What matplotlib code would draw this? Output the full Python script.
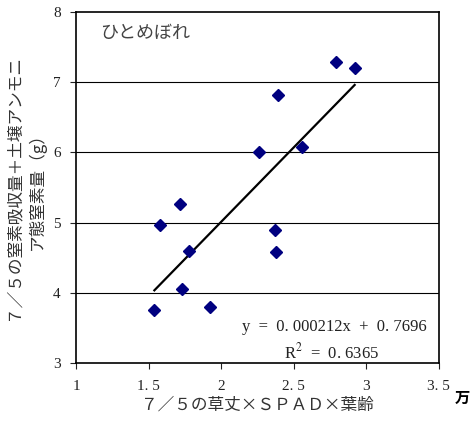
import numpy as np
import matplotlib.pyplot as plt

plt.rcParams['font.family'] = ['Liberation Serif', 'Noto Sans CJK JP', 'DejaVu Sans']
plt.rcParams['mathtext.fontset'] = 'stix'

# data (x in units of 万)
x_vals = [1.54, 1.58, 1.72, 1.78, 1.73, 1.92, 2.26, 2.37, 2.38, 2.39, 2.56, 2.79, 2.92]
y_vals = [3.75, 4.97, 5.27, 4.60, 4.05, 3.80, 6.00, 4.90, 4.58, 6.82, 6.07, 7.28, 7.20]

# regression given on the chart: y = 0.000212x + 0.7696 (x in raw units)
slope = 0.000212 * 10000
intercept = 0.7696

xticks = [1, 1.5, 2, 2.5, 3, 3.5]
xtick_labels = ['1', '1. 5', '2', '2. 5', '3', '3. 5']
yticks = [3, 4, 5, 6, 7, 8]

fig = plt.figure(figsize=(4.7, 4.26), dpi=100)
ax = fig.add_axes([0.1617, 0.148, 0.772, 0.824])

# horizontal grid lines
for g in [4, 5, 6, 7]:
    ax.axhline(g, color='black', lw=0.8, zorder=1)

# scatter points
ax.plot(x_vals, y_vals, linestyle='none', marker='D', markersize=6,
        color='#000080', zorder=3)

# trend line over the data range
xl = np.array([min(x_vals), max(x_vals)])
ax.plot(xl, slope * xl + intercept, color='black', lw=1.6, zorder=2)

ax.set_xlim(1, 3.5)
ax.set_ylim(3, 8)
ax.set_xticks(xticks)
ax.set_xticklabels(xtick_labels)
ax.set_yticks(yticks)
ax.tick_params(axis='both', direction='out', length=4, width=0.8,
               labelsize=11, colors='#222222')
ax.tick_params(axis='x', pad=8)
ax.tick_params(axis='y', pad=7)

for s in ax.spines.values():
    s.set_linewidth(1.2)
    s.set_color('black')

# labels
jp = ['Noto Sans CJK JP', 'DejaVu Sans']
ax.set_xlabel('７／５の草丈×ＳＰＡＤ×葉齢', family=jp, fontsize=12,
              color='#333333', labelpad=3)
ax.set_ylabel('７／５の窒素吸収量＋土壌アンモニ\nア態窒素量（g）', family=jp,
              fontsize=12, color='#333333', labelpad=5, linespacing=1.45)

ax.text(0.066, 0.94, 'ひとめぼれ', transform=ax.transAxes, family=jp,
        fontsize=13, color='#444444', va='center')

ax.text(0.967, 0.103, 'y  =  0. 000212x  +  0. 7696', transform=ax.transAxes,
        ha='right', va='center', fontsize=12, color='#222222')
ax.text(0.705, 0.031, 'R$^{2}$  =  0. 6365', transform=ax.transAxes,
        ha='center', va='center', fontsize=12, color='#222222')

# unit mark at the end of the x axis
fig.text(0.983, 0.065, '万', family=jp, fontsize=11, fontweight='bold',
         ha='center', va='center')

fig.savefig('out.png', dpi=100)
